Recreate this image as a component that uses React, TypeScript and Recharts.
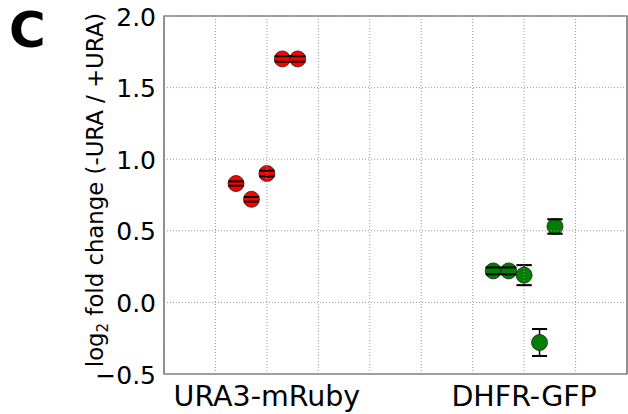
import React from 'react'
import { ScatterChart, Scatter, XAxis, YAxis, CartesianGrid, ErrorBar, ReferenceArea, Customized } from 'recharts'

// reporter categories on the x axis
const categories = ['URA3-mRuby', 'DHFR-GFP']
const categoryPositions = [2, 7]
const gridPositions = [1, 2, 3, 4, 5, 6, 7, 8]
const yTicks = [-0.5, 0, 0.5, 1.0, 1.5, 2.0]

// URA3-mRuby replicates
const rubyX = [1.4, 1.7, 2.0, 2.3, 2.6]
const rubyFold = [0.83, 0.72, 0.9, 1.7, 1.7]
const rubyErr = [0.015, 0.016, 0.02, 0.019, 0.019]

// DHFR-GFP replicates
const gfpX = [6.4, 6.7, 7.0, 7.3, 7.6]
const gfpFold = [0.22, 0.22, 0.19, -0.28, 0.53]
const gfpErr = [0.024, 0.024, 0.07, 0.094, 0.05]

const FONT = '"DejaVu Sans", sans-serif'
const RED = '#ff0000'
const GREEN = '#008000'

const toRows = (xs: number[], ys: number[], errs: number[]) =>
  xs.map((x, i) => ({ x, y: ys[i], err: errs[i] }))

// one point per cap so the caps can sit above the markers
const toCaps = (xs: number[], ys: number[], errs: number[]) =>
  xs.flatMap((x, i) => [
    { x, y: ys[i] + errs[i] },
    { x, y: ys[i] - errs[i] },
  ])

const rubyRows = toRows(rubyX, rubyFold, rubyErr)
const gfpRows = toRows(gfpX, gfpFold, gfpErr)
const capRows = [...toCaps(rubyX, rubyFold, rubyErr), ...toCaps(gfpX, gfpFold, gfpErr)]

const marker = (fill: string) => (p: any) =>
  <circle cx={p.cx} cy={p.cy} r={8} fill={fill} stroke="#222" strokeWidth={0.8} />

const cap = (p: any) =>
  <line x1={p.cx - 7.5} x2={p.cx + 7.5} y1={p.cy} y2={p.cy} stroke="#000" strokeWidth={2} />

const XTick = (p: any) => {
  const idx = categoryPositions.indexOf(p.payload.value)
  if (idx < 0) return <g />
  return (
    <text x={p.x} y={p.y + 32} textAnchor="middle" fontSize={28.5} fontFamily={FONT} fill="#000">
      {categories[idx]}
    </text>
  )
}

const YTick = (p: any) => (
  <text x={p.x - 8} y={p.y + 9.5} textAnchor="end" fontSize={25} fontFamily={FONT} fill="#000">
    {p.payload.value.toFixed(1).replace('-', '\u2212')}
  </text>
)

const YLabel = () => (
  <text transform="translate(103,190) rotate(-90)" textAnchor="middle" fontSize={22.8} fontFamily={FONT} fill="#000">
    log
    <tspan fontSize={15} dy={5}>2</tspan>
    <tspan dy={-5}> fold change (-URA / +URA)</tspan>
  </text>
)

const PanelLetter = () => (
  <text x={9} y={46.5} fontSize={50} fontWeight="bold" fontFamily={FONT} fill="#000">
    C
  </text>
)

export default function App() {
  return (
    <div style={{ position: 'absolute', left: 0, top: 0 }}>
      <ScatterChart width={628} height={414} margin={{ top: 16, right: 1, bottom: 0, left: 0 }}>
        <XAxis
          type="number"
          dataKey="x"
          domain={[0, 9]}
          ticks={gridPositions}
          axisLine={false}
          tickLine={false}
          tickSize={0}
          tickMargin={0}
          height={40}
          interval={0}
          tick={XTick}
        />
        <YAxis
          type="number"
          dataKey="y"
          domain={[-0.5, 2.0]}
          ticks={yTicks}
          axisLine={false}
          tickLine={false}
          tickSize={0}
          tickMargin={0}
          width={164}
          interval={0}
          tick={YTick}
          label={{ content: YLabel }}
        />
        <Scatter data={rubyRows} shape={marker(RED)} isAnimationActive={false}>
          <ErrorBar dataKey="err" direction="y" width={7.5} stroke="#000" strokeWidth={1.5} />
        </Scatter>
        <Scatter data={gfpRows} shape={marker(GREEN)} isAnimationActive={false}>
          <ErrorBar dataKey="err" direction="y" width={7.5} stroke="#000" strokeWidth={1.5} />
        </Scatter>
        <Scatter data={capRows} shape={cap} isAnimationActive={false} />
        <CartesianGrid stroke="#999" strokeDasharray="1 2" strokeWidth={1} zIndex={1000} />
        <ReferenceArea x1={0} x2={9} y1={-0.5} y2={2.0} fill="none" stroke="#444" strokeWidth={1.2} />
        <Customized component={PanelLetter} />
      </ScatterChart>
    </div>
  )
}
